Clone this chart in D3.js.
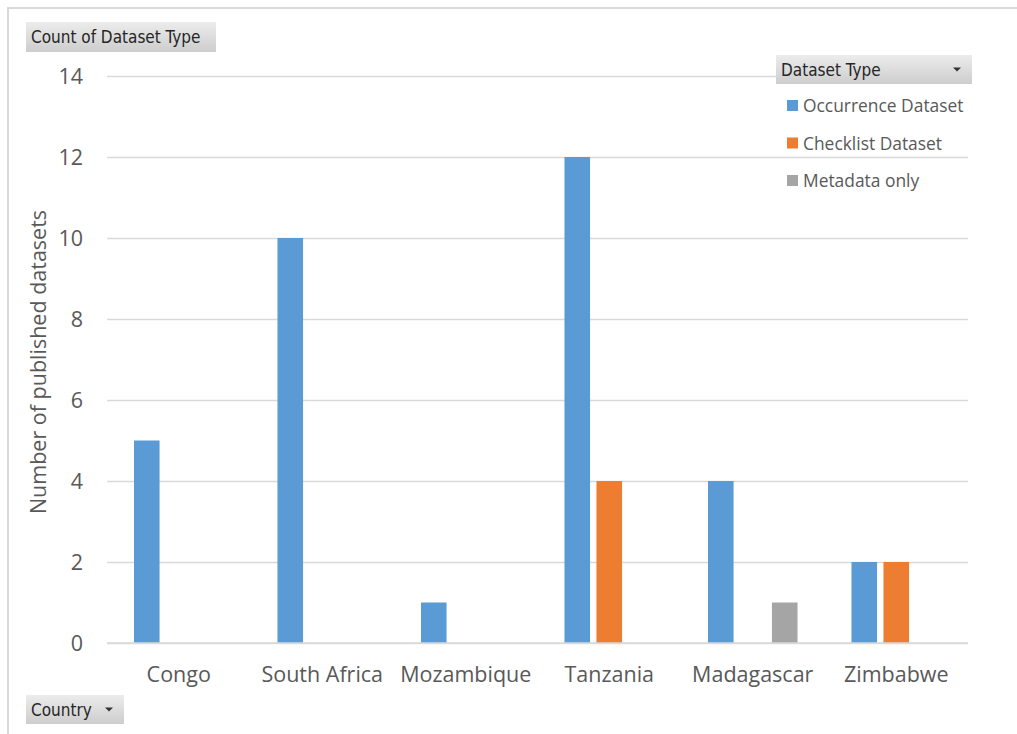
<!DOCTYPE html>
<html><head><meta charset="utf-8">
<script src="https://cdn.jsdelivr.net/npm/d3@7"></script>
<style>body{margin:0;background:#fff}svg{display:block}</style>
</head><body>
<script>
const countries = ["Congo","South Africa","Mozambique","Tanzania","Madagascar","Zimbabwe"];
const seriesNames = ["Occurrence Dataset","Checklist Dataset","Metadata only"];
const occurrence = [5,10,1,12,4,2];
const checklist = [0,0,0,4,0,2];
const metadata = [0,0,0,0,1,0];
const yTicks = [0,2,4,6,8,10,12,14];
const colors = ["#5B9BD5","#ED7D31","#A5A5A5"];
const seriesValues = [occurrence, checklist, metadata];

const W=1017,H=734;
const svg=d3.select("body").append("svg").attr("width",W).attr("height",H);
const font="'Open Sans', 'Noto Sans', sans-serif";
const btnFont="'Liberation Sans Narrow','DejaVu Sans Condensed', sans-serif";

// outer frame
svg.append("path").attr("d",`M8,${H} L8,8 L${W},8`).attr("fill","none").attr("stroke","#d9d9d9").attr("stroke-width",2);

const x0=d3.scaleBand().domain(countries).range([107,968]).paddingInner(0.376).paddingOuter(0.188);
const x1=d3.scaleBand().domain(seriesNames).range([0,x0.bandwidth()]).paddingInner(0.2).paddingOuter(0);
const y=d3.scaleLinear().domain([0,14]).range([643,76]);

// gridlines
const yAxis=d3.axisLeft(y).tickValues(yTicks).tickSize(-(968-107)).tickPadding(24);
const ga=svg.append("g").attr("transform","translate(107,0)").call(yAxis);
ga.select(".domain").remove();
ga.selectAll(".tick line").attr("stroke","#d9d9d9").attr("stroke-width",1.5);
ga.selectAll(".tick text").attr("fill","#595959").style("font-family",font).style("font-size","21.5px").attr("dy","0.35em");

// bars
const data=countries.map((c,i)=>({c,vals:seriesNames.map((s,j)=>({s,j,v:seriesValues[j][i]}))}));
const g=svg.append("g");
g.selectAll("g").data(data).join("g").attr("transform",d=>`translate(${x0(d.c)},0)`)
 .selectAll("rect").data(d=>d.vals.filter(v=>v.v>0)).join("rect")
 .attr("x",d=>x1(d.s)).attr("width",x1.bandwidth())
 .attr("y",d=>y(d.v)).attr("height",d=>y(0)-y(d.v)).attr("fill",d=>colors[d.j]);

// x axis
const xa=svg.append("g").attr("transform","translate(0,643)").call(d3.axisBottom(x0).tickSize(0).tickPadding(39));
xa.select(".domain").remove();
xa.selectAll(".tick text").attr("fill","#595959").style("font-family",font).style("font-size","21.5px").attr("dy","0");
svg.append("line").attr("x1",107).attr("x2",968).attr("y1",643).attr("y2",643).attr("stroke","#d9d9d9").attr("stroke-width",1.5);

// y axis title
svg.append("text").attr("transform","translate(38,362) rotate(-90)").attr("text-anchor","middle").attr("dy","0.35em")
 .attr("fill","#595959").style("font-family",font).style("font-size","21.5px").text("Number of published datasets");

// gradient for buttons
const defs=svg.append("defs");
const lg=defs.append("linearGradient").attr("id","btn").attr("x1",0).attr("y1",0).attr("x2",0).attr("y2",1);
lg.append("stop").attr("offset","0%").attr("stop-color","#ececec");
lg.append("stop").attr("offset","100%").attr("stop-color","#cdcdcd");

function button(x,yy,w,h,label,arrow){
  svg.append("rect").attr("x",x).attr("y",yy).attr("width",w).attr("height",h).attr("fill","url(#btn)");
  svg.append("text").attr("x",x+5).attr("y",yy+h/2).attr("dy","0.36em").attr("fill","#262626")
    .style("font-family",btnFont).style("font-size","17px").text(label);
  if(arrow){
    const ax=x+w-15, ay=yy+h/2;
    svg.append("path").attr("d",`M${ax-4},${ay-2} L${ax+4},${ay-2} L${ax},${ay+2} Z`).attr("fill","#333");
  }
}
button(26,22,190,30,"Count of Dataset Type",false);
button(26,695,98,29,"Country",true);
button(776,55,196,29,"Dataset Type",true);

// legend items
const leg=svg.append("g").selectAll("g").data(seriesNames).join("g")
 .attr("transform",(d,i)=>`translate(787,${106+i*37.5})`);
leg.append("rect").attr("x",0).attr("y",-6).attr("width",11).attr("height",11).attr("fill",(d,i)=>colors[i]);
leg.append("text").attr("x",16).attr("y",0).attr("dy","0.35em").attr("fill","#595959")
 .style("font-family",font).style("font-size","17.4px").text(d=>d);
</script>
</body></html>
